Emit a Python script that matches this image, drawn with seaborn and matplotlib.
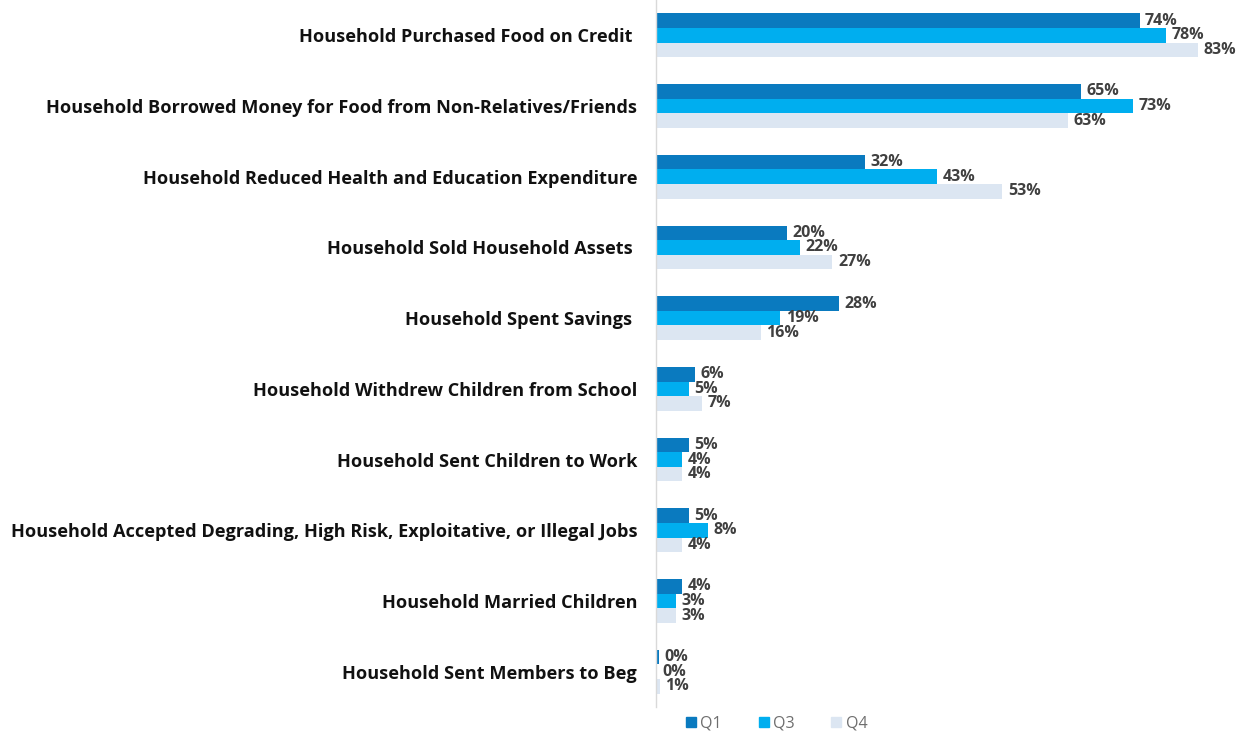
import matplotlib
matplotlib.use("Agg")
import matplotlib.pyplot as plt
from matplotlib.lines import Line2D
import seaborn as sns
import pandas as pd

categories = [
    "Household Purchased Food on Credit ",
    "Household Borrowed Money for Food from Non-Relatives/Friends",
    "Household Reduced Health and Education Expenditure",
    "Household Sold Household Assets ",
    "Household Spent Savings ",
    "Household Withdrew Children from School",
    "Household Sent Children to Work",
    "Household Accepted Degrading, High Risk, Exploitative, or Illegal Jobs",
    "Household Married Children",
    "Household Sent Members to Beg",
]
q1 = [74, 65, 32, 20, 28, 6, 5, 5, 4, 0.4]
q3 = [78, 73, 43, 22, 19, 5, 4, 8, 3, 0.2]
q4 = [83, 63, 53, 27, 16, 7, 4, 4, 3, 0.6]
series_names = ["Q1", "Q3", "Q4"]
colors = ["#0A7ABF", "#00AEEF", "#DCE6F2"]

rows = []
for name, vals in zip(series_names, [q1, q3, q4]):
    for cat, v in zip(categories, vals):
        rows.append({"category": cat, "quarter": name, "value": v})
df = pd.DataFrame(rows)

sns.set_style("white")
plt.rcParams["font.family"] = ["Open Sans", "DejaVu Sans"]

fig = plt.figure(figsize=(12.4, 7.33), dpi=100)
ax = fig.add_axes([656 / 1240, 26 / 733, 575 / 1240, 707 / 733])

sns.barplot(data=df, y="category", x="value", hue="quarter", order=categories,
            hue_order=series_names, palette=colors, orient="h", width=0.62,
            saturation=1, ax=ax, legend=False, errorbar=None, linewidth=0)

for cont in ax.containers:
    ax.bar_label(cont, fmt="{:.0f}%", padding=4, fontsize=11.5,
                 fontweight="bold", color="#404040", clip_on=False)

ax.set_xlim(0, 88)
ax.set_ylim(9.5, -0.5)
ax.set_xlabel("")
ax.set_ylabel("")
ax.set_xticks([])
ax.tick_params(axis="y", length=0, pad=13.5)
for lbl in ax.get_yticklabels():
    lbl.set_fontweight("bold")
    lbl.set_fontsize(13.1)
    lbl.set_color("#111111")
for side in ["top", "right", "bottom"]:
    ax.spines[side].set_visible(False)
ax.spines["left"].set_color("#D9D9D9")
ax.spines["left"].set_linewidth(1)

handles = [Line2D([0], [0], marker="s", linestyle="", markersize=7,
                  markerfacecolor=c, markeredgecolor=c) for c in colors]
leg = fig.legend(handles, series_names, loc="center", bbox_to_anchor=(776 / 1240, 1 - 724 / 733),
                 ncol=3, frameon=False, fontsize=11.5, handletextpad=0.2,
                 columnspacing=2.2, handlelength=0.8)
for t in leg.get_texts():
    t.set_color("#6E6E6E")

fig.savefig("out.png", dpi=100)
